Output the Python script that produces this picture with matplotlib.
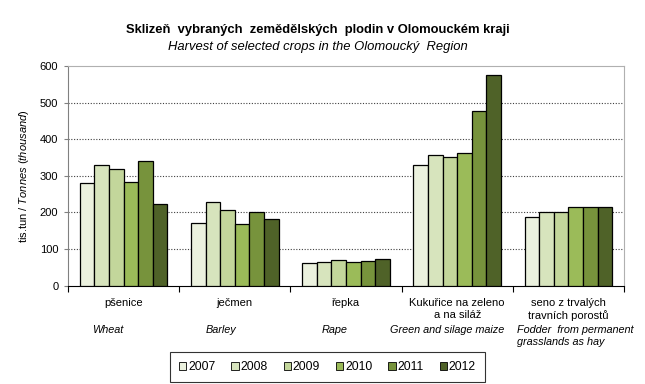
import matplotlib
matplotlib.use("Agg")
import matplotlib.pyplot as plt
from matplotlib.patches import Patch
import numpy as np

plt.rcParams['font.family'] = ['Liberation Sans', 'DejaVu Sans']
plt.rcParams['mathtext.fontset'] = 'custom'
plt.rcParams['mathtext.it'] = 'Liberation Sans:italic'
plt.rcParams['mathtext.rm'] = 'Liberation Sans'

categories_cz = ["pšenice", "ječmen", "řepka", "Kukuřice na zeleno\na na siláž", "seno z trvalých\ntravních porostů"]
categories_en = ["Wheat", "Barley", "Rape", "Green and silage maize", "Fodder  from permanent\ngrasslands as hay"]
years = ["2007", "2008", "2009", "2010", "2011", "2012"]
v2007 = [280, 171, 61, 329, 187]
v2008 = [329, 228, 65, 357, 200]
v2009 = [318, 206, 70, 351, 200]
v2010 = [283, 168, 64, 362, 214]
v2011 = [340, 201, 67, 477, 214]
v2012 = [223, 182, 72, 575, 214]
series = [v2007, v2008, v2009, v2010, v2011, v2012]
colors = ["#EBF1DE", "#D7E4BD", "#C3D69B", "#9BBB59", "#77933C", "#4F6228"]

fig = plt.figure(figsize=(6.45, 3.84), dpi=100)
ax = fig.add_axes([68/645, 1-285.5/384, (624-68)/645, (285.5-66)/384])

n = len(categories_cz)
x = np.arange(n)
bw = 0.131
for i, (vals, c) in enumerate(zip(series, colors)):
    ax.bar(x + (i - 2.5) * bw, vals, width=bw, color=c, edgecolor='black', linewidth=0.9, zorder=3)

ax.set_xlim(-0.5, n - 0.5)
ax.set_ylim(0, 600)
ax.set_yticks(range(0, 601, 100))
ax.tick_params(axis='y', labelsize=8, length=3, direction='out', color='#808080', pad=4)
ax.set_xticks(np.arange(-0.5, n, 1.0))
ax.set_xticklabels([])
ax.tick_params(axis='x', length=4, direction='out', color='black')
for yv in range(100, 600, 100):
    ax.axhline(yv, color='#404040', linestyle=(0, (1, 1.5)), linewidth=0.8, zorder=1)

ax.spines['left'].set_color('#808080')
ax.spines['bottom'].set_color('black')
ax.spines['top'].set_color('#b0b0b0')
ax.spines['right'].set_color('#b0b0b0')

trans = ax.get_xaxis_transform()
for i in range(n):
    ax.text(x[i], -(298 - 285.5) / 219.5, categories_cz[i], transform=trans,
            ha='center', va='top', fontsize=8, linespacing=1.2)

# English captions sit in their own text boxes, slightly offset from the category centres
en_pos = [(107.5, 'center'), (221, 'center'), (334.5, 'center'), (447.5, 'center'), (517, 'left')]
for (px, ha), lab in zip(en_pos, categories_en):
    fig.text(px / 645, 1 - 325 / 384, lab, ha=ha, va='top', fontsize=7.8,
             style='italic', linespacing=1.3)

ax.set_ylabel(r"tis.tun / $\mathit{Tonnes\ (thousand)}$", fontsize=8, labelpad=6)

fig.text(317.5/645, 1-30/384, "Sklizeň  vybraných  zemědělských  plodin v Olomouckém kraji",
         ha='center', va='center', fontsize=9.4, fontweight='bold')
fig.text(317.5/645, 1-47/384, "Harvest of selected crops in the Olomoucký  Region",
         ha='center', va='center', fontsize=9.4, style='italic')

handles = [Patch(facecolor=c, edgecolor='black', linewidth=0.6, label=y) for c, y in zip(colors, years)]
leg = fig.legend(handles=handles, ncol=6, loc='center', bbox_to_anchor=(327.5/645, 1-367/384),
                 fontsize=8.7, frameon=True, fancybox=False, edgecolor='black',
                 handlelength=0.6, handleheight=0.6, handletextpad=0.15, columnspacing=1.32,
                 borderpad=0.75, borderaxespad=0)
leg.get_frame().set_linewidth(0.8)

fig.savefig("out.png", dpi=100)
